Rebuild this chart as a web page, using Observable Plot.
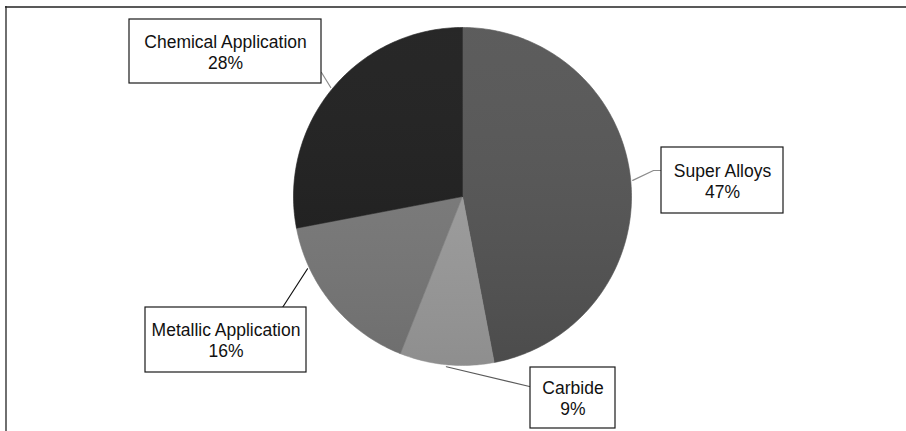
<!DOCTYPE html>
<html><head><meta charset="utf-8">
<script src="https://cdn.jsdelivr.net/npm/d3@7"></script>
<script src="https://cdn.jsdelivr.net/npm/@observablehq/plot@0.6"></script>
<style>body{margin:0;background:#fff;overflow:hidden}</style>
</head><body><div id="chart"></div>
<script>
// ---- data ----
const categories = ["Super Alloys", "Carbide", "Metallic Application", "Chemical Application"];
const shares = [47, 9, 16, 28];
const percentLabels = ["47%", "9%", "16%", "28%"];
const sliceColors = ["#545454", "#9e9e9e", "#7a7a7a", "#1c1c1c"];

// ---- layout ----
const W = 906, H = 431, cx = 462, cy = 196, R = 169;
const labelLayout = [
  {name: "Super Alloys", box: [661, 147, 783, 213], via: [[653, 170], [661, 170]], stroke: "#8c8c8c"},
  {name: "Carbide", box: [530, 367, 615, 428], via: [[529, 386]], stroke: "#5a5a5a"},
  {name: "Metallic Application", box: [145, 307, 306, 372], via: [[282, 307]], stroke: "#111", angle: 245},
  {name: "Chemical Application", box: [129, 19, 321, 83], via: [[321, 72]], stroke: "#8c8c8c"}
];

const data = categories.map((name, i) => ({name, share: shares[i], pct: percentLabels[i]}));
const arcs = d3.pie().sort(null).value(d => d.share).startAngle(0).endAngle(2 * Math.PI)(data);

// polygon outline of each slice
const slicePts = [];
for (const a of arcs) {
  slicePts.push({name: a.data.name, x: cx, y: cy});
  const n = Math.max(2, Math.ceil((a.endAngle - a.startAngle) / (Math.PI / 180)));
  for (let k = 0; k <= n; k++) {
    const t = a.startAngle + (a.endAngle - a.startAngle) * k / n;
    slicePts.push({name: a.data.name, x: cx + R * Math.sin(t), y: cy - R * Math.cos(t)});
  }
  slicePts.push({name: a.data.name, x: cx, y: cy});
}

const leaderMarks = labelLayout.map(L => {
  const arc = arcs.find(a => a.data.name === L.name);
  const ang = L.angle != null ? L.angle * Math.PI / 180 : (arc.startAngle + arc.endAngle) / 2;
  const pts = [[cx + (R + 2) * Math.sin(ang), cy - (R + 2) * Math.cos(ang)], ...L.via];
  return Plot.line(pts, {x: d => d[0], y: d => d[1], stroke: L.stroke, strokeWidth: 1.2});
});

const labelRows = labelLayout.map(L => {
  const d = data.find(e => e.name === L.name);
  return {x1: L.box[0], y1: L.box[1], x2: L.box[2], y2: L.box[3], text: d.name + "\n" + d.pct};
});

const plot = Plot.plot({
  width: W, height: H, margin: 0,
  x: {domain: [0, W], range: [0, W], axis: null},
  y: {domain: [0, H], range: [0, H], axis: null},
  color: {type: "ordinal", domain: categories, range: sliceColors},
  style: {fontFamily: "'Liberation Sans', Arial, sans-serif", background: "#fff"},
  marks: [
    Plot.ruleY([6.5], {x1: 5, x2: W, stroke: "#222", strokeWidth: 1.3}),
    Plot.ruleX([5.5], {y1: 6, y2: H, stroke: "#222", strokeWidth: 1.3}),
    Plot.line(slicePts, {x: "x", y: "y", z: "name", fill: "name", stroke: "name", strokeWidth: 0.6}),
    Plot.line(slicePts, {x: "x", y: "y", z: "name", fill: "url(#pieShade)", stroke: "none"}),
    ...leaderMarks,
    Plot.rect(labelRows, {x1: "x1", y1: "y1", x2: "x2", y2: "y2", fill: "#fff", stroke: "#1a1a1a", strokeWidth: 1.2}),
    Plot.text(labelRows, {x: d => (d.x1 + d.x2) / 2, y: d => (d.y1 + d.y2) / 2, text: "text",
      fontSize: 17.5, lineHeight: 1.2, fill: "#111"})
  ]
});

// subtle vertical shading like the original
const ns = "http://www.w3.org/2000/svg";
const defs = document.createElementNS(ns, "defs");
defs.innerHTML = '<linearGradient id="pieShade" gradientUnits="userSpaceOnUse" x1="0" y1="' + (cy - R) + '" x2="0" y2="' + (cy + R) + '">' +
  '<stop offset="0" stop-color="#ffffff" stop-opacity="0.05"/>' +
  '<stop offset="1" stop-color="#000000" stop-opacity="0.1"/></linearGradient>';
plot.insertBefore(defs, plot.firstChild);

document.getElementById("chart").append(plot);
</script>
</body></html>
